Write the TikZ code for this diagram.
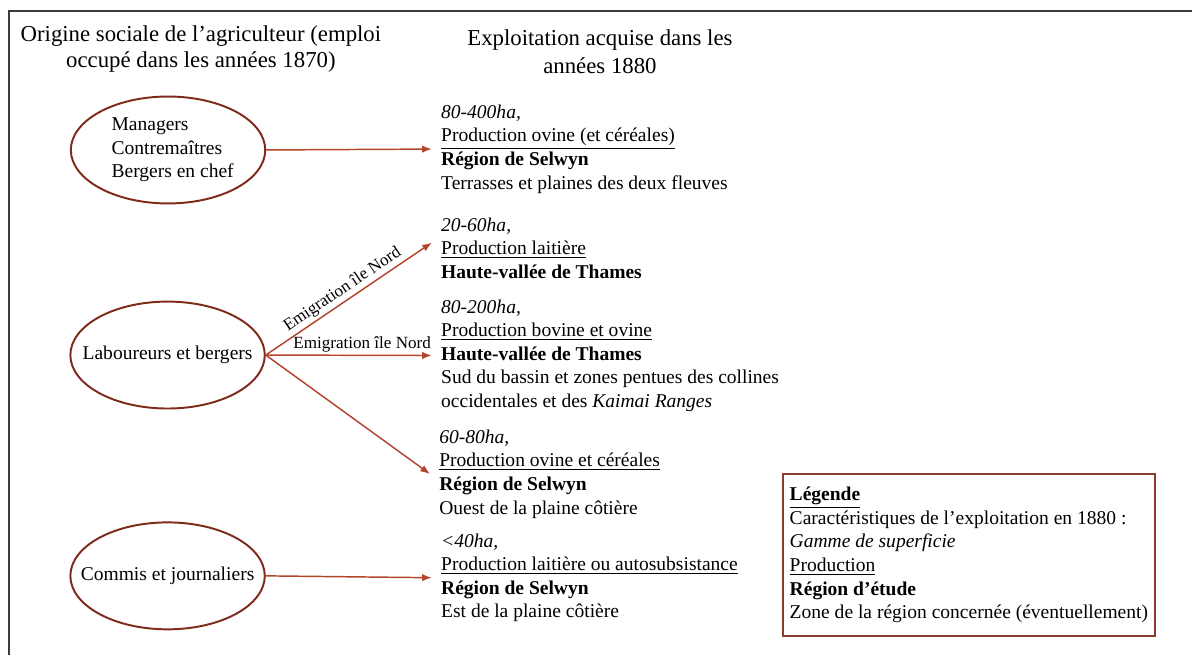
\documentclass[tikz,border=0pt]{standalone}
\usepackage{fontspec}
\setmainfont{Liberation Serif}
\usepackage{tikz}
\usetikzlibrary{arrows.meta,shapes.geometric}
\definecolor{ovalred}{HTML}{7F2B1B}
\definecolor{arrowred}{HTML}{B3452B}
\definecolor{legendred}{HTML}{8E3B2B}
\definecolor{framegray}{HTML}{3A3A3A}

\begin{document}
\begin{tikzpicture}[
  >={Latex[length=6pt,width=4.5pt]},
  origin/.style={draw=ovalred, ellipse, line width=1.2pt, minimum width=4.2cm,
    minimum height=2.31cm, inner sep=0pt},
  label/.style={align=left, font=\fontsize{12}{14.5}\selectfont},
  farm/.style={anchor=west, align=left, inner xsep=5.5pt, inner ysep=2pt,
    font=\fontsize{12}{14.5}\selectfont},
  flow/.style={->, line width=0.9pt, arrowred},
  route/.style={text=black, font=\fontsize{10.5}{12}\selectfont, inner sep=1.5pt}
]
\useasboundingbox (0,0) rectangle (25.75,-14.15);
\draw[framegray, line width=0.9pt] (0.19,-14.15) -- (0.19,-0.24) -- (25.75,-0.24);

\node[align=center, font=\fontsize{14}{16}\selectfont] (titleorig) at (4.34,-1.06)
  {Origine sociale de l'agriculteur (emploi\\occupé dans les années 1870)};
\node[align=center, font=\fontsize{14}{17}\selectfont] (titlefarm) at (12.96,-1.12)
  {Exploitation acquise dans les\\années 1880};

% origins
\node[origin] (managers) at (3.63,-3.24) {};
\node[label] (managerstext) at ([xshift=1mm]managers.center)
  {Managers\\Contremaîtres\\Bergers en chef};
\node[origin] (labourers) at (3.62,-7.67) {};
\node[label] (labourerstext) at (labourers.center) {Laboureurs et bergers};
\node[origin] (clerks) at (3.62,-12.44) {};
\node[label] (clerkstext) at (clerks.center) {Commis et journaliers};

% farms
\node[farm] (selwynA) at (9.33,-3.22)
  {\textit{80-400ha,}\\\underline{Production ovine (et céréales)}\\
   \textbf{Région de Selwyn}\\Terrasses et plaines des deux fleuves};
\node[farm] (thamesA) at (9.33,-5.36)
  {\textit{20-60ha,}\\\underline{Production laitière}\\\textbf{Haute-vallée de Thames}};
\node[farm] (thamesB) at (9.33,-7.68)
  {\textit{80-200ha,}\\\underline{Production bovine et ovine}\\
   \textbf{Haute-vallée de Thames}\\Sud du bassin et zones pentues des collines\\
   occidentales et des \textit{Kaimai Ranges}};
\node[farm] (selwynB) at (9.29,-10.24)
  {\textit{60-80ha,}\\\underline{Production ovine et céréales}\\
   \textbf{Région de Selwyn}\\Ouest de la plaine côtière};
\node[farm] (selwynC) at (9.33,-12.48)
  {\textit{<40ha,}\\\underline{Production laitière ou autosubsistance}\\
   \textbf{Région de Selwyn}\\Est de la plaine côtière};

\draw[flow] (managers.east) -- (selwynA.west);
\draw[flow] (labourers.east) -- node[route, above, sloped, pos=0.5] {Emigration île Nord}
  ([yshift=1.2mm]thamesA.west);
\draw[flow] (labourers.east) -- node[route, above, pos=0.58] {Emigration île Nord}
  (thamesB.west);
\draw[flow] (labourers.east) -- (selwynB.west);
\draw[flow] (clerks.east) -- (selwynC.west);

\node[draw=legendred, line width=1.2pt, align=left, inner xsep=4pt,
  minimum height=3.5cm, font=\fontsize{12}{14.5}\selectfont]
  (legend) at (20.93,-11.99)
  {\underline{\textbf{Légende}}\\Caractéristiques de l'exploitation en 1880 :\\
   \textit{Gamme de superficie}\\\underline{Production}\\\textbf{Région d'étude}\\
   Zone de la région concernée (éventuellement)};
\end{tikzpicture}
\end{document}
